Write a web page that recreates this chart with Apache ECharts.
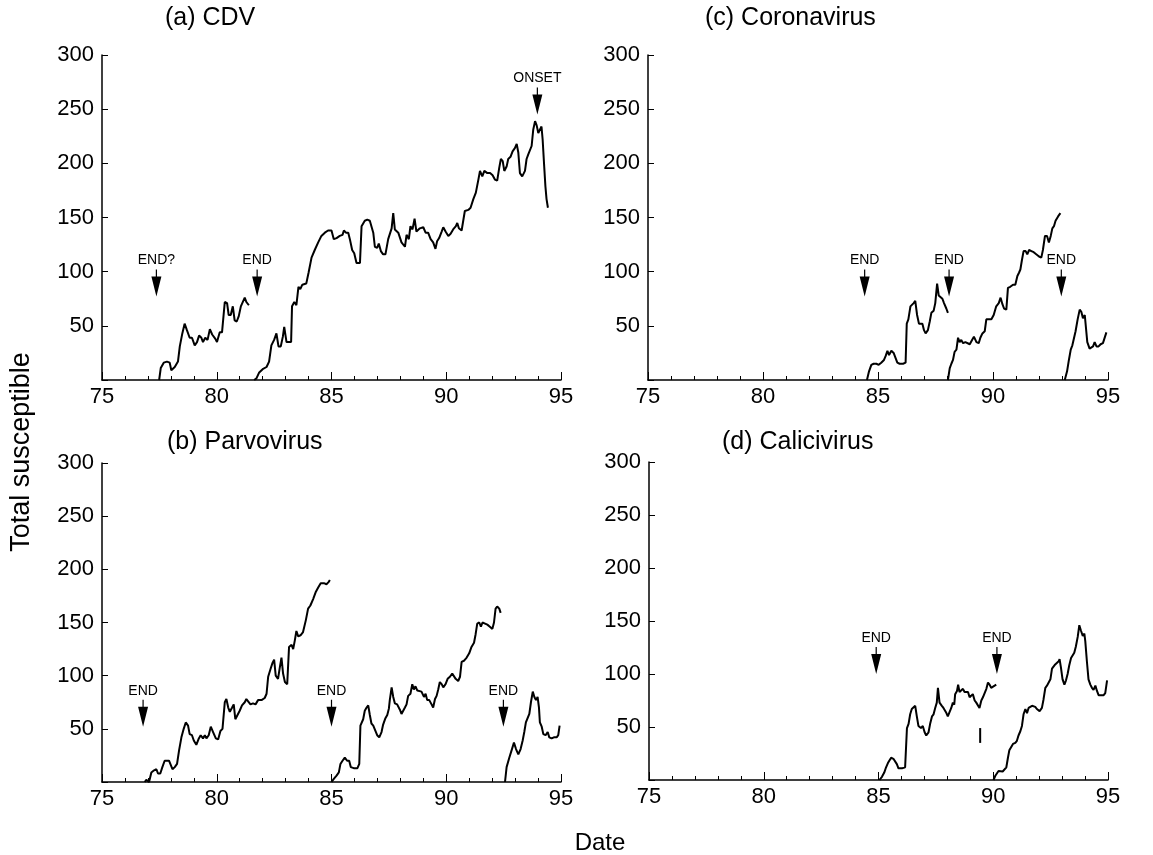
<!DOCTYPE html>
<html>
<head>
<meta charset="utf-8">
<script src="https://cdn.jsdelivr.net/npm/echarts@6/dist/echarts.min.js"></script>
<style>html,body{margin:0;padding:0;background:#fff}#c{width:1153px;height:855px}</style>
</head>
<body>
<div id="c"></div>
<script>
// ---- Data (year, total susceptible) ----
const cdv1 = [[77.49,0],[77.56,11],[77.69,16],[77.83,17],[77.95,16],[78.02,9],[78.17,12],[78.31,17],[78.39,31],[78.5,43],[78.6,52],[78.7,46],[78.82,39],[78.92,39],[79.04,32],[79.14,35],[79.23,41],[79.33,39],[79.4,35],[79.5,39],[79.6,37],[79.7,47],[79.8,42],[79.94,38],[80.01,35],[80.13,44],[80.23,44],[80.35,72],[80.45,71],[80.52,60],[80.61,60],[80.7,68],[80.78,55],[80.87,54],[80.96,59],[81.05,68],[81.13,69],[81.22,76],[81.29,72],[81.4,69]];
const cdv2 = [[81.63,0],[81.73,1.5],[81.85,7],[82.0,10],[82.17,12],[82.28,17],[82.38,32],[82.5,37],[82.6,43],[82.69,31],[82.79,31],[82.88,40],[82.94,49],[83.04,35],[83.15,35],[83.24,35],[83.28,68],[83.38,72],[83.47,69],[83.56,86],[83.64,84],[83.73,88],[83.9,89],[84.0,99],[84.13,113],[84.27,120],[84.42,127],[84.56,133],[84.71,136],[84.85,138],[85.0,138],[85.1,130],[85.22,131],[85.36,133],[85.48,134],[85.54,138],[85.63,136],[85.73,136],[85.8,130],[85.9,120],[85.99,117],[86.09,108],[86.24,108],[86.31,142],[86.45,147],[86.56,148],[86.67,147],[86.73,148],[86.82,136],[86.89,123],[86.99,122],[87.06,126],[87.15,119],[87.25,116],[87.35,116],[87.47,130],[87.54,131],[87.62,140],[87.69,154],[87.76,139],[87.91,136],[88.05,127],[88.2,123],[88.27,134],[88.37,130],[88.44,142],[88.53,139],[88.62,149],[88.7,137],[88.85,140],[89.0,141],[89.1,136],[89.21,136],[89.32,130],[89.43,127],[89.53,121],[89.6,128],[89.69,131],[89.8,137],[89.87,141],[89.97,137],[90.09,133],[90.19,135],[90.3,139],[90.42,142],[90.48,145],[90.55,140],[90.67,138],[90.74,137],[90.81,156],[90.96,157],[91.06,159],[91.18,167],[91.29,173],[91.4,185],[91.47,193],[91.57,188],[91.66,193],[91.79,191],[91.91,191],[92.02,189],[92.12,185],[92.22,184],[92.31,196],[92.38,204],[92.46,202],[92.53,193],[92.63,197],[92.7,204],[92.8,206],[92.89,211],[92.99,214],[93.07,218],[93.14,210],[93.21,191],[93.31,188],[93.43,193],[93.5,204],[93.57,208],[93.65,207],[93.72,216],[93.79,231],[93.87,239],[93.94,235],[94.01,228],[94.08,227],[94.15,234],[94.2,222],[94.26,200],[94.32,179],[94.37,167],[94.43,159]];

const cor1 = [[84.52,0],[84.61,8],[84.71,14],[84.81,15],[84.93,15],[85.03,14],[85.14,16],[85.26,18.5],[85.33,22],[85.41,27],[85.48,23],[85.58,27],[85.68,25],[85.77,20],[85.84,16],[85.94,15],[86.09,15],[86.2,16],[86.25,52],[86.32,56],[86.41,68],[86.48,69],[86.55,71],[86.62,73],[86.7,60],[86.78,52],[86.86,51],[86.93,52],[87.0,46],[87.07,43],[87.17,46],[87.25,54],[87.32,62],[87.42,64],[87.49,71],[87.57,89],[87.64,78],[87.71,77],[87.8,75],[87.87,71],[87.97,66],[88.04,62]];
const cor2 = [[88.04,0],[88.12,11],[88.19,15],[88.26,18.5],[88.33,26],[88.41,28],[88.48,39],[88.55,35],[88.62,37],[88.7,34],[88.8,35],[88.88,35],[88.99,33],[89.09,37],[89.17,40],[89.28,35],[89.38,34],[89.45,39],[89.54,43],[89.64,45],[89.71,56],[89.81,56],[89.93,56],[90.03,60],[90.14,68],[90.25,71],[90.33,76],[90.41,70],[90.48,66],[90.58,65],[90.65,85],[90.75,86],[90.87,88],[90.97,88],[91.06,96],[91.13,99],[91.19,102],[91.26,111],[91.33,119],[91.42,119],[91.49,116],[91.57,120],[91.67,119],[91.77,118],[91.88,116],[92.0,114],[92.1,113],[92.17,120],[92.26,133],[92.35,133],[92.43,127],[92.51,133],[92.58,140],[92.65,142],[92.72,147],[92.78,148],[92.83,151],[92.87,150],[92.93,154]];
const cor3 = [[93.12,0],[93.22,8],[93.3,18.5],[93.38,28],[93.45,32],[93.51,31],[93.59,45],[93.68,56],[93.77,65],[93.84,63],[93.91,57],[93.99,60],[94.03,59],[94.1,35],[94.2,29],[94.28,28],[94.35,31],[94.42,35],[94.5,31],[94.59,31],[94.68,33],[94.78,34],[94.86,33],[94.93,44]];

const par1 = [[76.86,0],[76.93,2],[77.05,0],[77.15,9],[77.27,11],[77.37,12],[77.44,8],[77.54,8],[77.63,14],[77.73,20],[77.83,20],[77.92,20],[77.99,20],[78.07,12],[78.17,14],[78.27,17],[78.36,30],[78.46,42],[78.56,50],[78.65,56],[78.75,53],[78.82,45],[78.92,44],[79.0,39],[79.11,35],[79.22,41],[79.3,44],[79.4,41],[79.48,44],[79.55,41],[79.65,44],[79.74,52],[79.84,47],[79.96,41],[80.06,40],[80.16,48],[80.25,50],[80.35,75],[80.42,78],[80.5,70],[80.57,66],[80.67,70],[80.74,73],[80.81,59],[80.89,58],[81.0,67],[81.1,72],[81.22,75],[81.29,78],[81.37,77],[81.47,73],[81.58,74],[81.69,73],[81.8,77],[81.95,77],[82.09,79],[82.17,83],[82.24,99],[82.34,106],[82.43,112],[82.5,115],[82.57,100],[82.67,97],[82.75,108],[82.82,117],[82.89,102],[82.97,94],[83.07,92],[83.15,127],[83.26,129],[83.33,125],[83.4,133],[83.47,142],[83.55,137],[83.65,138],[83.76,141],[83.88,152],[83.98,163],[84.08,166],[84.2,172],[84.32,179],[84.42,183],[84.53,187],[84.67,187],[84.78,186],[84.87,188],[84.93,190]];
const par2 = [[85.0,0],[85.1,3],[85.22,6],[85.32,9],[85.39,17],[85.48,20],[85.58,23],[85.68,20],[85.77,20],[85.84,14],[85.97,13],[86.13,13],[86.21,17],[86.26,53],[86.38,59],[86.45,67],[86.53,70],[86.6,72],[86.67,63],[86.74,55],[86.82,53],[86.89,52],[86.99,44],[87.08,42],[87.18,47],[87.25,54],[87.35,60],[87.43,63],[87.5,69],[87.54,77],[87.62,89],[87.69,80],[87.76,74],[87.86,73],[87.98,68],[88.05,64],[88.12,63],[88.2,70],[88.27,73],[88.34,81],[88.44,83],[88.52,92],[88.59,87],[88.66,90],[88.74,86],[88.82,86],[88.92,85],[89.03,80],[89.1,83],[89.17,77],[89.26,77],[89.36,73],[89.43,70],[89.51,78],[89.58,81],[89.65,87],[89.72,94],[89.8,92],[89.87,89],[89.97,92],[90.06,97],[90.16,99],[90.26,102],[90.33,103],[90.41,97],[90.52,95],[90.6,99],[90.67,113],[90.77,114],[90.89,117],[91.0,121],[91.1,127],[91.21,131],[91.28,139],[91.35,149],[91.44,150],[91.51,146],[91.58,150],[91.69,149],[91.79,148],[91.9,146],[92.01,144],[92.08,150],[92.15,163],[92.22,165],[92.31,163],[92.37,159]];
const par3 = [[92.56,0],[92.63,14],[92.75,23],[92.85,30],[92.95,37],[93.04,31],[93.14,26],[93.24,31],[93.33,39],[93.4,47],[93.47,56],[93.53,55],[93.62,64],[93.69,75],[93.77,85],[93.84,80],[93.91,77],[93.98,80],[94.04,70],[94.08,56],[94.16,52],[94.23,45],[94.33,44],[94.42,47],[94.49,42],[94.59,41],[94.69,42],[94.81,42],[94.88,44],[94.94,53]];

const cal1 = [[85.04,0],[85.15,3],[85.25,7],[85.33,12],[85.41,16],[85.48,16],[85.55,21],[85.65,20],[85.73,20],[85.8,15],[85.87,11],[86.02,11],[86.16,12],[86.24,49],[86.31,53],[86.38,62],[86.45,67],[86.53,66],[86.6,70],[86.67,60],[86.74,51],[86.85,49],[86.93,51],[87.01,45],[87.08,42],[87.18,45],[87.25,53],[87.33,60],[87.4,62],[87.47,68],[87.54,73],[87.59,87],[87.66,73],[87.76,70],[87.83,68],[87.94,64],[88.02,60],[88.1,60],[88.17,68],[88.24,73],[88.3,71],[88.34,81],[88.42,84],[88.47,90],[88.53,83],[88.6,84],[88.68,86],[88.75,83],[88.82,84],[88.9,83],[88.97,78],[89.04,79],[89.11,81],[89.19,75],[89.26,73],[89.33,72],[89.4,68],[89.48,75],[89.55,78],[89.62,79],[89.7,86],[89.77,92],[89.84,90],[89.91,87],[89.99,87],[90.06,89],[90.13,90]];
const calBlip = [[89.43,35],[89.43,49]];
const cal2 = [[90.01,0],[90.09,4],[90.16,5],[90.23,8.5],[90.31,9],[90.41,8],[90.49,7],[90.57,12],[90.64,21],[90.7,28],[90.77,29],[90.86,34],[90.96,35],[91.03,37],[91.1,42],[91.18,46],[91.25,51],[91.32,62],[91.4,67],[91.47,63],[91.54,68],[91.61,68],[91.69,70],[91.76,69],[91.83,69],[91.9,67],[92.02,65],[92.12,68],[92.19,76],[92.27,87],[92.34,89],[92.41,89],[92.49,95],[92.56,105],[92.63,106],[92.7,109],[92.78,110],[92.85,112],[92.89,114],[92.95,106],[93.02,95],[93.1,90],[93.17,94],[93.24,100],[93.31,108],[93.39,115],[93.46,116],[93.53,120],[93.6,126],[93.68,135],[93.75,146],[93.82,141],[93.9,136],[93.97,138],[94.01,131],[94.08,112],[94.15,95],[94.23,90],[94.3,87],[94.37,85],[94.45,89],[94.52,84],[94.59,80],[94.69,80],[94.81,80],[94.88,82],[94.96,94]];

// Annotations: [label, year, value at arrow tip]
const cdvMarks = [['END?',77.37,77],['END',81.76,77],['ONSET',93.97,245]];
const corMarks = [['END',84.42,77],['END',88.09,77],['END',92.97,77]];
const parMarks = [['END',76.79,52],['END',85.0,52],['END',92.49,52]];
const calMarks = [['END',84.9,100],['END',90.16,100]];

const yTicks = [0,50,100,150,200,250,300];
const xTicks = [75,80,85,90,95];
const panelTitles = ['(a) CDV','(c) Coronavirus','(b) Parvovirus','(d) Calicivirus'];

// ---- Chart ----
const FONT = "'Liberation Sans', Arial, Helvetica, sans-serif";
const grids = [
  {left:102, top:55, width:459, height:325},
  {left:648, top:55, width:460, height:325},
  {left:102, top:463, width:459, height:319},
  {left:649, top:462, width:459, height:318}
];
const panels = [
  {lines:[cdv1,cdv2], marks:cdvMarks},
  {lines:[cor1,cor2,cor3], marks:corMarks},
  {lines:[par1,par2,par3], marks:parMarks},
  {lines:[cal1,calBlip,cal2], marks:calMarks}
];

const xAxes = grids.map((g,i)=>({
  type:'value', gridIndex:i, min:xTicks[0], max:xTicks[xTicks.length-1], interval:5,
  axisLine:{show:true, onZero:false, lineStyle:{color:'#000', width:1.5}},
  axisTick:{show:true, inside:true, length:8, lineStyle:{color:'#000', width:1}},
  minorTick:{show:true, splitNumber:5, length:4, lineStyle:{color:'#000', width:1}},
  splitLine:{show:false},
  axisLabel:{color:'#000', fontSize:22, fontFamily:FONT, margin:6}
}));
const yAxes = grids.map((g,i)=>({
  type:'value', gridIndex:i, min:yTicks[0], max:yTicks[yTicks.length-1], interval:50,
  axisLine:{show:true, lineStyle:{color:'#000', width:1.5}},
  axisTick:{show:true, inside:true, length:6, lineStyle:{color:'#000', width:1}},
  splitLine:{show:false},
  axisLabel:{color:'#000', fontSize:22, fontFamily:FONT, margin:8,
    formatter: v => v === 0 ? '' : String(v)}
}));

const ARROW = 'path://M4.4,0 L5.6,0 L5.6,7 L10,7 L5,27 L0,7 L4.4,7 Z';
const series = [];
panels.forEach((p,i)=>{
  p.lines.forEach(d=>{
    series.push({type:'line', xAxisIndex:i, yAxisIndex:i, data:d, showSymbol:false,
      lineStyle:{color:'#000', width:2}, silent:true, animation:false, z:3});
  });
  series.push({type:'scatter', xAxisIndex:i, yAxisIndex:i, animation:false, silent:true,
    symbol:ARROW, symbolSize:[10,27], symbolOffset:[0,'-50%'],
    itemStyle:{color:'#000', opacity:1},
    label:{show:true, position:'top', distance:2, formatter:'{b}', color:'#000', fontSize:14, fontFamily:FONT},
    data:p.marks.map(m=>({name:m[0], value:[m[1],m[2]]}))
  });
});

const titlePos = [[165,18],[705,18],[167,442],[722,442]];
const graphics = panelTitles.map((t,i)=>({
  type:'text', x:titlePos[i][0], y:titlePos[i][1],
  style:{text:t, font:'25px '+FONT, fill:'#000', textAlign:'left', textVerticalAlign:'middle'}
}));
graphics.push({type:'text', x:22, y:452, rotation:Math.PI/2,
  style:{text:'Total susceptible', font:'27px '+FONT, fill:'#000', textAlign:'center', textVerticalAlign:'middle'}});
graphics.push({type:'text', x:600, y:843,
  style:{text:'Date', font:'24px '+FONT, fill:'#000', textAlign:'center', textVerticalAlign:'middle'}});

const chart = echarts.init(document.getElementById('c'), null, {renderer:'canvas'});
chart.setOption({
  backgroundColor:'#fff',
  animation:false,
  grid:grids,
  xAxis:xAxes,
  yAxis:yAxes,
  series:series,
  graphic:graphics
});
</script>
</body>
</html>
